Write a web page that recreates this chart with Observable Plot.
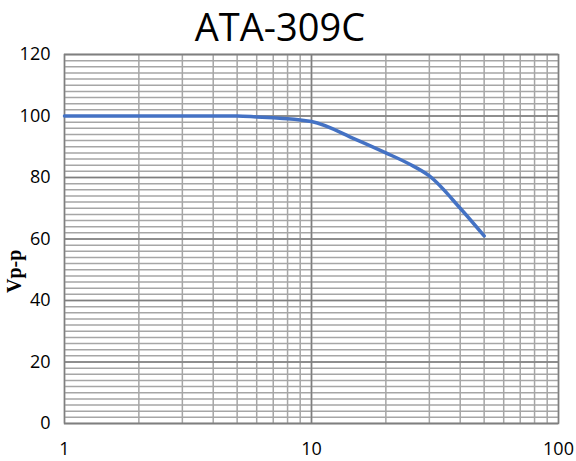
<!DOCTYPE html>
<html>
<head>
<meta charset="utf-8">
<script src="https://cdn.jsdelivr.net/npm/d3@7"></script>
<script src="https://cdn.jsdelivr.net/npm/@observablehq/plot@0.6"></script>
<style>
  body { margin: 0; background: #fff; }
  #title { height: 34px; line-height: 52px; text-align: center; font-family: "Open Sans", sans-serif; font-size: 38px; color: #000; padding-right: 16px; }
</style>
</head>
<body>
<div id="title">ATA-309C</div>
<div id="chart"></div>
<script>
const freq = [1, 2, 3, 4, 5, 6, 7, 8, 9, 10, 15, 20, 25, 30, 40, 50];
const vpp = [100, 100, 100, 100, 100, 99.7, 99.4, 99.1, 98.7, 98.2, 92.5, 88, 84.3, 80.5, 70, 61];
const xTicks = [1, 10, 100];
const xGrid = [1, 2, 3, 4, 5, 6, 7, 8, 9, 10, 20, 30, 40, 50, 60, 70, 80, 90, 100];
const yTicks = [0, 20, 40, 60, 80, 100, 120];
const yMinorGrid = d3.range(0, 121, 2);
const yLabel = "Vp-p";

const data = freq.map((f, i) => ({f, v: vpp[i]}));

const chart = Plot.plot({
  width: 576,
  height: 427,
  marginTop: 20,
  marginBottom: 38,
  marginLeft: 64,
  marginRight: 18,
  style: {fontFamily: "Open Sans, sans-serif", fontSize: "16px", color: "#000", background: "#fff"},
  x: {type: "log", domain: [1, 100]},
  y: {domain: [0, 120]},
  marks: [
    Plot.gridY(yMinorGrid, {stroke: "#a6a6a6", strokeOpacity: 1, strokeWidth: 1.5}),
    Plot.gridX(xGrid, {stroke: "#a6a6a6", strokeOpacity: 1, strokeWidth: 1.5}),
    Plot.gridY(yTicks, {stroke: "#7f7f7f", strokeOpacity: 1, strokeWidth: 1.5}),
    Plot.gridX([10], {stroke: "#7f7f7f", strokeOpacity: 1, strokeWidth: 1.5}),
    Plot.frame({stroke: "#7f7f7f", strokeWidth: 1.5}),
    Plot.axisY(yTicks, {tickSize: 0, tickPadding: 14, label: null, fontSize: 18}),
    Plot.axisX(xTicks, {tickSize: 0, tickPadding: 19, label: null, tickFormat: d => String(d), fontSize: 18}),
    Plot.line(data, {x: "f", y: "v", stroke: "#4472c4", strokeWidth: 3.5, curve: "monotone-x"}),
    Plot.text([yLabel], {frameAnchor: "left", rotate: -90, dx: -50, dy: 54, fontWeight: "bold", fontFamily: "Liberation Serif, serif", fontSize: 20, fill: "#000"})
  ]
});
document.getElementById("chart").appendChild(chart);
</script>
</body>
</html>
